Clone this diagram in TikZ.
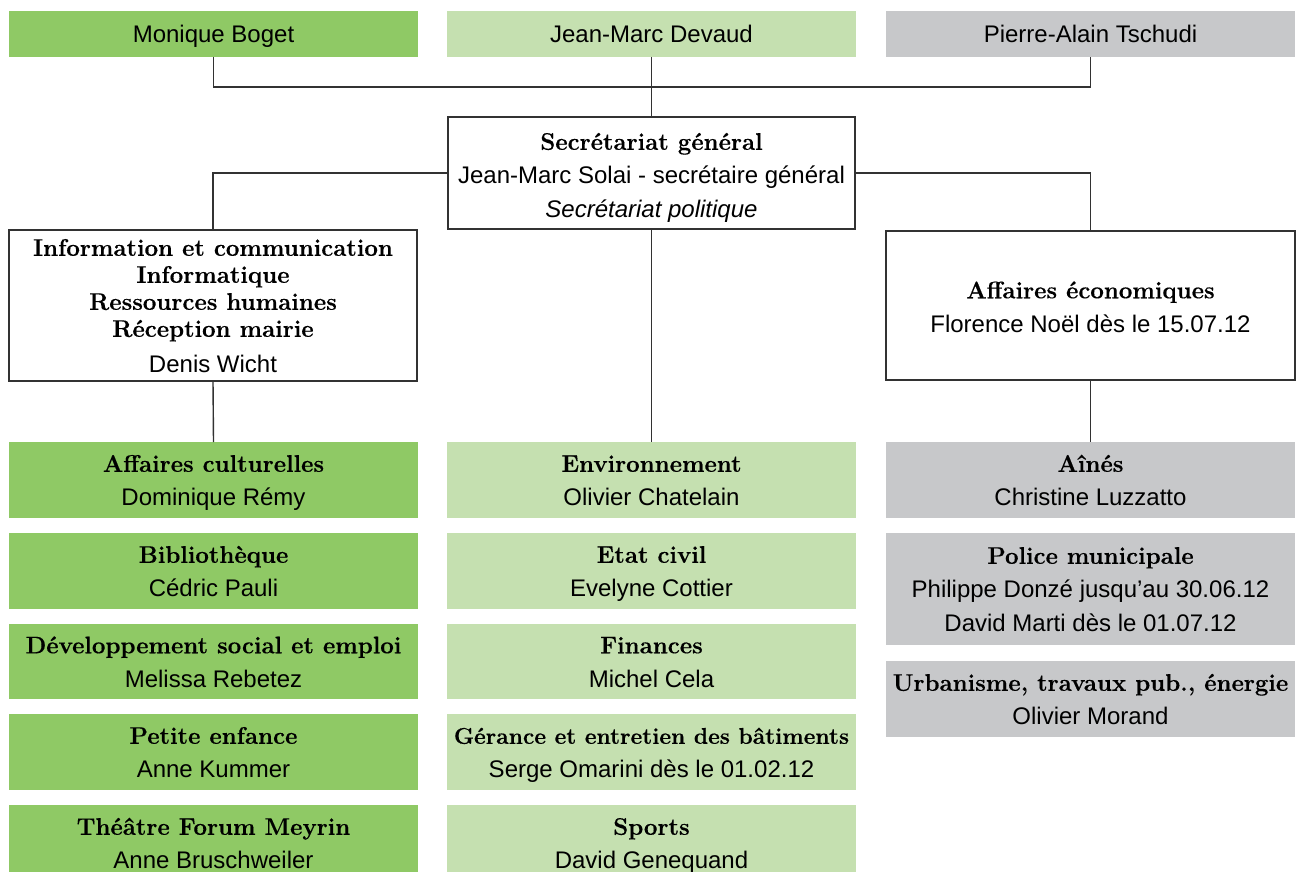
\documentclass[tikz,border=0pt]{standalone}
\usepackage{fontspec}
\newfontfamily\arial{Liberation Sans}
\newfontfamily\lmbx{lmroman12-bold}[Extension=.otf, FakeBold=0.4]
\definecolor{dgreen}{RGB}{143,201,101}
\definecolor{lgreen}{RGB}{197,224,176}
\definecolor{lgray}{RGB}{199,200,202}
\definecolor{linec}{RGB}{50,50,50}
\newcommand\bx[7]{%
 \pgfmathsetmacro\cx{(#3+#5)/2}\pgfmathsetmacro\cy{(#4+#6)/2}%
 \pgfmathsetmacro\ww{(#5-#3)*0.5}\pgfmathsetmacro\hh{(#6-#4)*0.5}%
 \node[#2, minimum width=\ww pt, minimum height=\hh pt] (#1) at (\cx,\cy) {#7};}
% first line: taller strut pushes the text block down a little
\newcommand\ttl[2][13.9pt]{\rule[-5.1pt]{0pt}{\dimexpr#1+5.1pt\relax}{\lmbx #2}}
\newcommand\bl[1]{\strut{\lmbx #1}}
\begin{document}
\begin{tikzpicture}[x=0.5pt,y=-0.5pt,
  base/.style={rectangle, inner sep=0pt, outer sep=0pt, align=center,
     font=\fontsize{12}{17}\selectfont\arial},
  dg/.style={base, fill=dgreen},
  lg/.style={base, fill=lgreen},
  gr/.style={base, fill=lgray},
  wb/.style={base, fill=white, draw=linec, line width=0.7pt},
  conn/.style={draw=linec, line width=0.7pt}]
\clip (0,0) rectangle (1296,872);
\fill[white] (0,0) rectangle (1296,872);
% top row
\bx{mb}{dg}{9}{11}{418}{57}{\rule[-5.1pt]{0pt}{19pt}Monique Boget}
\bx{jm}{lg}{447}{11}{856}{57}{\rule[-5.1pt]{0pt}{19pt}Jean-Marc Devaud}
\bx{pt}{gr}{886}{11}{1295}{57}{\rule[-5.1pt]{0pt}{19pt}Pierre-Alain Tschudi}
% secretariat
\bx{sg}{wb}{448}{117}{855}{229}{\ttl[15.9pt]{Secrétariat général}\\\strut Jean-Marc Solai - secrétaire général\\\strut\itshape Secrétariat politique}
\bx{info}{wb}{9}{231}{417}{380}{\ttl[12.9pt]{Information et communication}\\[-3.5pt]\bl{Informatique}\\[-3.5pt]\bl{Ressources humaines}\\[-3.5pt]\bl{Réception mairie}\\\rule[-4.1pt]{0pt}{16pt}Denis Wicht}
\bx{eco}{wb}{886}{231}{1295}{380}{\ttl[14.9pt]{Affaires économiques}\\\strut Florence Noël dès le 15.07.12}
% column 1
\bx{ac}{dg}{9}{442}{418}{518}{\ttl{Affaires culturelles}\\\strut Dominique Rémy}
\bx{bib}{dg}{9}{533}{418}{609}{\ttl{Bibliothèque}\\\strut Cédric Pauli}
\bx{dse}{dg}{9}{624}{418}{699}{\ttl{Développement social et emploi}\\\strut Melissa Rebetez}
\bx{pe}{dg}{9}{714}{418}{790}{\ttl{Petite enfance}\\\strut Anne Kummer}
\bx{tfm}{dg}{9}{805}{418}{881}{\ttl{Théâtre Forum Meyrin}\\\strut Anne Bruschweiler}
% column 2
\bx{env}{lg}{447}{442}{856}{518}{\ttl{Environnement}\\\strut Olivier Chatelain}
\bx{ec}{lg}{447}{533}{856}{609}{\ttl{Etat civil}\\\strut Evelyne Cottier}
\bx{fin}{lg}{447}{624}{856}{699}{\ttl{Finances}\\\strut Michel Cela}
\bx{ger}{lg}{447}{714}{856}{790}{\ttl{\fontsize{11.4}{17}\selectfont Gérance et entretien des bâtiments}\\\strut Serge Omarini dès le 01.02.12}
\bx{spo}{lg}{447}{805}{856}{881}{\ttl{Sports}\\\strut David Genequand}
% column 3
\bx{ain}{gr}{886}{442}{1295}{518}{\ttl{Aînés}\\\strut Christine Luzzatto}
\bx{pol}{gr}{886}{533}{1295}{645}{\ttl{Police municipale}\\\strut Philippe Donzé jusqu’au 30.06.12\\\strut David Marti dès le 01.07.12}
\bx{urb}{gr}{886}{661}{1295}{737}{\ttl{Urbanisme, travaux pub., énergie}\\\strut Olivier Morand}
% connectors
\coordinate (bus) at (652,87);
\draw[conn] (mb.south) |- (bus) -| (pt.south);
\draw[conn] (jm.south) -- (sg.north);
\draw[conn] (sg.west) -| (info.north);
\draw[conn] (sg.east) -| (eco.north);
\draw[conn] (info.south) -- (ac.north);
\draw[conn] (sg.south) -- (env.north);
\draw[conn] (eco.south) -- (ain.north);
\end{tikzpicture}
\end{document}
